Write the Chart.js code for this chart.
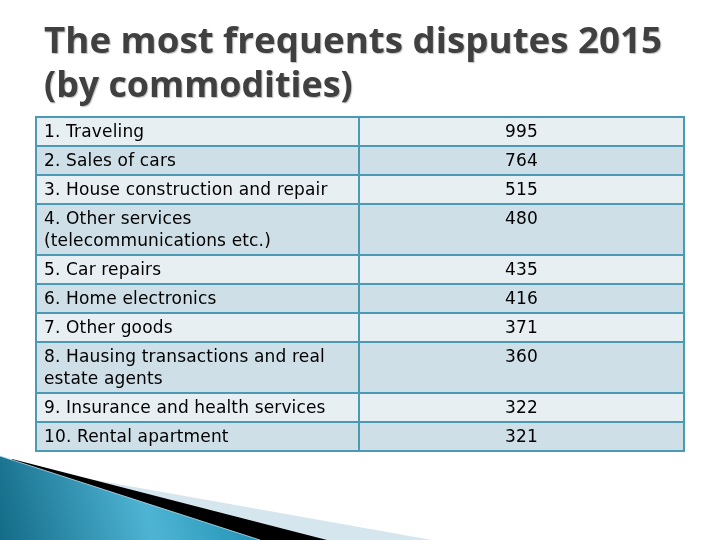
<!DOCTYPE html>
<html lang="en">
<head>
    <meta charset="UTF-8">
    <title>The most frequents disputes 2015</title>
    <script src="https://cdn.jsdelivr.net/npm/chart.js"></script>
    <style>
        html, body { margin: 0; padding: 0; background: #ffffff; }
        #wrap { width: 720px; height: 540px; }
    </style>
</head>
<body>
    <div id="wrap">
        <canvas id="disputes-table" width="720" height="540"></canvas>
    </div>

    <script>
        // Table data
        const titleLines = ['The most frequents disputes 2015', '(by commodities)'];
        const categories = [
            '1. Traveling',
            '2. Sales of cars',
            '3. House construction and repair',
            '4. Other services\n(telecommunications etc.)',
            '5. Car repairs',
            '6. Home electronics',
            '7. Other goods',
            '8. Hausing transactions and real\nestate agents',
            '9. Insurance and health services',
            '10. Rental apartment'
        ];
        const disputes = [995, 764, 515, 480, 435, 416, 371, 360, 322, 321];

        // Row geometry in y-scale units (one unit = one pixel of the table)
        const LINE_H = 22;
        const ROW_PAD = 7;
        const lineCounts = categories.map(c => c.split('\n').length);
        const rowTops = [];
        let total = 0;
        lineCounts.forEach(n => {
            rowTops.push(total);
            total += ROW_PAD + LINE_H * n;
        });
        const COL_SPLIT = 0.997;

        const tableFont = '17px "DejaVu Sans"';
        const border = '#4a9ab5';

        const decorPlugin = {
            id: 'decor',
            beforeDraw(chart) {
                const ctx = chart.ctx;
                ctx.save();
                // light band
                ctx.fillStyle = '#d6e6ee';
                ctx.beginPath();
                ctx.moveTo(50, 472);
                ctx.lineTo(432, 540);
                ctx.lineTo(0, 540);
                ctx.closePath();
                ctx.fill();
                // black band
                ctx.fillStyle = '#000000';
                ctx.beginPath();
                ctx.moveTo(12, 459);
                ctx.lineTo(327, 540);
                ctx.lineTo(0, 540);
                ctx.closePath();
                ctx.fill();
                // blue gradient
                const g = ctx.createLinearGradient(0, 540, 262, 470);
                g.addColorStop(0, '#136b87');
                g.addColorStop(0.55, '#4fb4d4');
                g.addColorStop(1, '#1a8eb1');
                ctx.fillStyle = g;
                ctx.beginPath();
                ctx.moveTo(0, 456);
                ctx.lineTo(260, 540);
                ctx.lineTo(0, 540);
                ctx.closePath();
                ctx.fill();
                ctx.strokeStyle = 'rgba(190,225,240,0.8)';
                ctx.lineWidth = 1;
                ctx.beginPath();
                ctx.moveTo(0, 456);
                ctx.lineTo(260, 540);
                ctx.stroke();

                // title
                ctx.font = '700 36px "Open Sans"';
                ctx.textBaseline = 'alphabetic';
                ctx.fillStyle = '#404040';
                ctx.shadowColor = 'rgba(0,0,0,0.25)';
                ctx.shadowOffsetX = 1;
                ctx.shadowOffsetY = 1;
                ctx.shadowBlur = 1;
                const w = ctx.measureText(titleLines[0]).width;
                const sx = 618 / w;
                ctx.translate(44, 0);
                ctx.scale(sx, 1);
                ctx.fillText(titleLines[0], 0, 53);
                ctx.scale(0.975, 1);
                ctx.fillText(titleLines[1], 0, 97);
                ctx.restore();
            }
        };

        const tablePlugin = {
            id: 'table',
            beforeDatasetsDraw(chart) {
                const { ctx, scales: { x, y } } = chart;
                const xl = x.getPixelForValue(0);
                const xm = x.getPixelForValue(COL_SPLIT);
                const xr = x.getPixelForValue(2);
                const meta = chart.getDatasetMeta(0);
                ctx.save();
                categories.forEach((label, i) => {
                    const top = y.getPixelForValue(rowTops[i]);
                    const bottom = y.getPixelForValue(rowTops[i] + ROW_PAD + LINE_H * lineCounts[i]);
                    ctx.fillStyle = i % 2 === 0 ? '#e8eff3' : '#cfdfe7';
                    ctx.fillRect(xl, top, xr - xl, bottom - top);

                    ctx.fillStyle = '#000000';
                    ctx.font = tableFont;
                    ctx.letterSpacing = '0.15px';
                    ctx.textBaseline = 'alphabetic';
                    ctx.textAlign = 'left';
                    label.split('\n').forEach((line, j) => {
                        ctx.fillText(line, xl + 8, top + 20 + j * LINE_H);
                    });
                    const pt = meta.data[i];
                    ctx.textAlign = 'center';
                    ctx.fillText(String(chart.data.datasets[0].data[i].v), pt.x, top + 20);
                });

                ctx.strokeStyle = border;
                ctx.lineWidth = 2;
                ctx.beginPath();
                rowTops.concat([total]).forEach(v => {
                    const py = Math.round(y.getPixelForValue(v));
                    ctx.moveTo(xl, py);
                    ctx.lineTo(xr, py);
                });
                [xl, xm, xr].forEach(px => {
                    ctx.moveTo(Math.round(px), y.getPixelForValue(0) - 1);
                    ctx.lineTo(Math.round(px), y.getPixelForValue(total) + 1);
                });
                ctx.stroke();
                ctx.restore();
            }
        };

        const ctx = document.getElementById('disputes-table').getContext('2d');
        new Chart(ctx, {
            type: 'scatter',
            data: {
                datasets: [{
                    label: 'Disputes',
                    data: disputes.map((v, i) => ({ x: (COL_SPLIT + 2) / 2, y: rowTops[i], v: v })),
                    pointRadius: 0,
                    pointHoverRadius: 0
                }]
            },
            options: {
                responsive: false,
                animation: false,
                layout: { padding: { left: 36, right: 36, top: 117, bottom: 89 } },
                plugins: {
                    legend: { display: false },
                    tooltip: { enabled: false },
                    title: { display: false }
                },
                scales: {
                    x: { type: 'linear', min: 0, max: 2, display: false },
                    y: { type: 'linear', min: 0, max: total, reverse: true, display: false }
                }
            },
            plugins: [decorPlugin, tablePlugin]
        });
    </script>
</body>
</html>
